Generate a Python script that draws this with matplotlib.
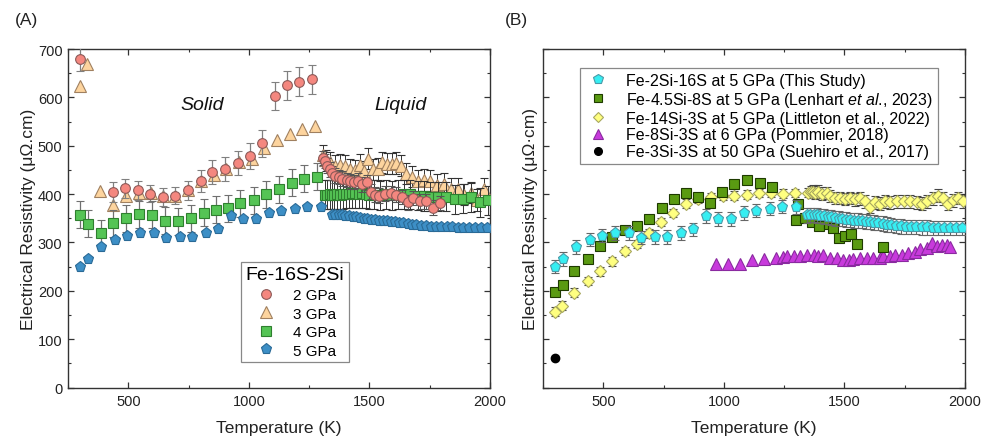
import matplotlib
matplotlib.use("Agg")
import matplotlib.pyplot as plt
from matplotlib.ticker import MultipleLocator
from matplotlib.lines import Line2D

plt.rcParams['font.family'] = ['Liberation Sans', 'DejaVu Sans']
plt.rcParams['mathtext.fontset'] = 'custom'
plt.rcParams['mathtext.rm'] = 'Liberation Sans'
plt.rcParams['mathtext.it'] = 'Liberation Sans:italic'

# ---------------- Panel A data: Fe-16S-2Si ----------------
red_T = [298, 435, 486, 540, 588, 643, 695, 748, 800, 849, 902, 956, 1005, 1053, 1107, 1160, 1209, 1262]
red_R = [680, 404, 412, 408, 401, 394, 397, 408, 427, 445, 452, 465, 479, 505, 603, 625, 632, 637]
red_E = [26, 20, 20, 20, 18, 18, 18, 20, 22, 25, 25, 25, 27, 28, 29, 30, 30, 30]
red_liq_T = [1307, 1316, 1326, 1336, 1346, 1358, 1372, 1388, 1405, 1420, 1436, 1453, 1470, 1490, 1508, 1522,
             1540, 1563, 1588, 1611, 1633, 1658, 1681, 1709, 1734, 1762, 1792]
red_liq_R = [475, 468, 459, 451, 444, 438, 435, 432, 429, 426, 425, 428, 420, 424, 405, 399,
             397, 401, 402, 399, 394, 383, 392, 385, 385, 372, 382]

orange_T = [298, 327, 381, 435, 490, 543, 594, 645, 695, 748, 800, 857, 905, 958, 1014, 1062, 1116, 1169, 1220, 1273]
orange_R = [623, 670, 407, 377, 395, 402, 403, 395, 397, 408, 428, 439, 452, 466, 473, 495, 511, 525, 534, 540]
orange_liq_T = [1307, 1320, 1335, 1356, 1377, 1398, 1421, 1441, 1460, 1478, 1494, 1515, 1536, 1553, 1574, 1595,
                1611, 1632, 1653, 1677, 1702, 1727, 1753, 1782, 1810, 1840, 1868, 1892, 1920, 1947, 1975]
orange_liq_R = [480, 470, 466, 459, 460, 459, 451, 449, 461, 447, 473, 451, 452, 466, 463, 463,
                464, 459, 442, 436, 428, 429, 428, 419, 421, 411, 411, 399, 403, 388, 411]

green_T = [299, 331, 386, 438, 490, 546, 598, 654, 705, 758, 813, 864, 915, 965, 1021, 1072, 1125, 1178, 1228, 1282]
green_R = [357, 339, 319, 340, 350, 358, 357, 345, 344, 350, 361, 368, 371, 381, 387, 400, 410, 423, 432, 436]
green_liq_T = [1315, 1325, 1335, 1345, 1355, 1365, 1378, 1390, 1402, 1415, 1428, 1440, 1455, 1470, 1485, 1500,
               1520, 1545, 1570, 1595, 1620, 1645, 1670, 1700, 1725, 1750, 1785, 1818, 1854, 1888, 1923, 1958, 1993]
green_liq_R = [399, 399, 400, 399, 399, 400, 399, 400, 401, 401, 402, 402, 401, 402, 401, 399,
               399, 398, 400, 398, 399, 400, 400, 397, 396, 394, 394, 394, 389, 390, 393, 383, 387]

# "This Study" 5 GPa (blue in A, cyan in B)
study_T = [299, 332, 387, 444, 496, 548, 606, 658, 713, 764, 821, 871, 925, 976, 1031, 1085, 1135, 1192, 1243, 1298]
study_R = [250, 266, 290, 306, 314, 320, 320, 310, 311, 311, 319, 327, 355, 348, 348, 361, 366, 370, 374, 373]
study_liq_T = [1345, 1358, 1372, 1386, 1400, 1415, 1430, 1445, 1460, 1476, 1492, 1508, 1524, 1540, 1556, 1572,
               1588, 1605, 1622, 1640, 1658, 1676, 1695, 1715, 1735, 1755, 1775, 1797, 1820, 1843, 1866, 1890,
               1914, 1938, 1962, 1986]
study_liq_R = [356, 357, 357, 356, 355, 354, 353, 352, 350, 349, 348, 347, 346, 345, 345, 344,
               343, 342, 341, 340, 339, 337, 336, 334, 333, 332, 332, 332, 331, 331, 330, 330,
               330, 330, 330, 330]

# ---------------- Panel B data: comparison ----------------
lenhart_T = [300, 333, 380, 435, 485, 536, 591, 640, 691, 743, 795, 844, 892, 943, 994, 1043, 1096, 1150, 1199,
             1300, 1309, 1337, 1365, 1396, 1434, 1454, 1478, 1503, 1528, 1551, 1662]
lenhart_R = [198, 212, 240, 266, 292, 311, 325, 334, 349, 371, 390, 403, 394, 381, 405, 421, 430, 423, 414,
             347, 380, 350, 342, 334, 339, 330, 310, 313, 318, 296, 290]

littleton_T = [300, 329, 380, 435, 485, 536, 588, 640, 691, 740, 791, 843, 892, 946, 996, 1043, 1096, 1147, 1196,
               1245, 1296, 1347, 1360, 1370, 1380, 1392, 1406, 1427, 1441, 1461, 1482, 1503, 1524, 1544, 1565,
               1586, 1607, 1627, 1648, 1669, 1689, 1717, 1745, 1772, 1800, 1821, 1841, 1869, 1890, 1910, 1931,
               1952, 1972, 1993]
littleton_R = [157, 169, 196, 220, 240, 261, 282, 297, 319, 342, 361, 380, 390, 394, 396, 397, 399, 402, 402,
               401, 402, 403, 404, 405, 403, 405, 401, 402, 396, 392, 392, 390, 392, 389, 391,
               385, 374, 383, 380, 385, 383, 385, 385, 385, 383, 380, 385, 391, 397, 391, 380,
               387, 392, 385]

pommier_T = [967, 1017, 1065, 1116, 1167, 1217, 1245, 1261, 1289, 1316, 1344, 1372, 1392, 1413, 1441, 1468,
             1496, 1517, 1537, 1565, 1593, 1620, 1648, 1662, 1689, 1710, 1738, 1765, 1793, 1814, 1841, 1862,
             1883, 1903, 1924, 1938]
pommier_R = [256, 256, 256, 264, 266, 267, 270, 271, 272, 272, 273, 274, 272, 273, 268, 268,
             264, 263, 266, 268, 268, 268, 268, 272, 272, 273, 275, 278, 280, 287, 289, 299,
             292, 294, 295, 290]

suehiro_T = [300]
suehiro_R = [62]

# ---------------- Figure ----------------
fig = plt.figure(figsize=(9.88, 4.39), dpi=100)
W, H = 988.0, 439.0
axA = fig.add_axes([68 / W, (H - 388.5) / H, 422 / W, 338.5 / H])
axB = fig.add_axes([543 / W, (H - 388.5) / H, 422 / W, 338.5 / H])


def style_axis(ax, ticklabels_y=True):
    ax.set_xlim(250, 2000)
    ax.set_ylim(0, 700)
    ax.xaxis.set_major_locator(MultipleLocator(500))
    ax.xaxis.set_minor_locator(MultipleLocator(250))
    ax.yaxis.set_major_locator(MultipleLocator(100))
    ax.yaxis.set_minor_locator(MultipleLocator(50))
    ax.tick_params(which='both', direction='in', top=True, right=True, colors='#333333',
                   labelcolor='#222222', labelsize=10.5)
    ax.tick_params(which='major', length=4.5, width=0.9)
    ax.tick_params(which='minor', length=2.5, width=0.8)
    ax.tick_params(axis='x', pad=5)
    ax.tick_params(axis='y', pad=4)
    for s in ax.spines.values():
        s.set_color('#333333')
        s.set_linewidth(1.0)
    if not ticklabels_y:
        ax.tick_params(axis='y', labelleft=False)
    ax.set_xlabel('Temperature (K)', fontsize=12.5, color='#222222')
    ax.xaxis.set_label_coords(0.5, -0.095)
    ax.xaxis.label.set_va('top')


def series(ax, T, R, E, marker, fc, ec, ms, ecolor='#777777', z=3, capsize=3, elw=0.9):
    ax.errorbar(T, R, yerr=E, fmt=marker, ms=ms, mfc=fc, mec=ec, mew=0.8,
                ecolor=ecolor, elinewidth=elw, capsize=capsize, capthick=elw, zorder=z)


# ---- Panel A ----
style_axis(axA, True)
c_red, e_red = '#f4877f', '#8c5a58'
c_or, e_or = '#fdd49e', '#a08060'
c_gr, e_gr = '#55c455', '#2f7f2f'
c_bl, e_bl = '#3d8fc6', '#2a6a96'

series(axA, orange_T, orange_R, None, '^', c_or, e_or, 8, z=3)
series(axA, orange_liq_T, orange_liq_R, [22] * len(orange_liq_T), '^', c_or, e_or, 8,
       ecolor='#333333', z=3, elw=0.7)
series(axA, red_T, red_R, red_E, 'o', c_red, e_red, 7, ecolor='#808080', z=4)
series(axA, green_T, green_R, [28] * len(green_T), 's', c_gr, e_gr, 6.5, ecolor='#707070', z=5)
series(axA, green_liq_T, green_liq_R, [30] * len(green_liq_T), 's', c_gr, e_gr, 6.5,
       ecolor='#333333', z=5, elw=0.7)
series(axA, red_liq_T, red_liq_R, [15] * len(red_liq_T), 'o', c_red, e_red, 7,
       ecolor='#555555', z=5.5, elw=0.7)
series(axA, study_T, study_R, None, 'p', c_bl, e_bl, 8, z=6)
series(axA, study_liq_T, study_liq_R, None, 'p', c_bl, e_bl, 8, z=6)

axA.set_ylabel('Electrical Resistivity (\u03bc\u03a9.cm)', fontsize=12.5, color='#222222')
axA.yaxis.set_label_coords(-0.077, 0.5)

axA.text(0.3175, 0.8375, 'Solid', transform=axA.transAxes, fontsize=14, style='italic',
         ha='center', va='center', color='#111111')
axA.text(0.789, 0.835, 'Liquid', transform=axA.transAxes, fontsize=14, style='italic',
         ha='center', va='center', color='#111111')

hA = [Line2D([], [], ls='none', marker='o', ms=7, mfc=c_red, mec=e_red, mew=0.8),
      Line2D([], [], ls='none', marker='^', ms=8, mfc=c_or, mec=e_or, mew=0.8),
      Line2D([], [], ls='none', marker='s', ms=6.5, mfc=c_gr, mec=e_gr, mew=0.8),
      Line2D([], [], ls='none', marker='p', ms=8, mfc=c_bl, mec=e_bl, mew=0.8)]
labA = ['2 GPa', '3 GPa', '4 GPa', '5 GPa']
legA = axA.legend(hA, labA, title='Fe-16S-2Si', loc='upper left', bbox_to_anchor=(0.41, 0.371),
                  borderaxespad=0, fontsize=11, title_fontsize=14, frameon=True, fancybox=False,
                  edgecolor='#888888', framealpha=1, labelspacing=0.3, handletextpad=1.0,
                  borderpad=0.3, handlelength=1.6)
legA.get_frame().set_linewidth(0.9)

# ---- Panel B ----
style_axis(axB, False)
c_cy, e_cy = '#36eef2', '#4a9aa8'
c_ol, e_ol = '#5a9a12', '#1e3a00'
c_ye, e_ye = '#ffff80', '#a8a860'
c_pu, e_pu = '#c83adc', '#8a2aa0'

series(axB, pommier_T, pommier_R, None, '^', c_pu, e_pu, 8, z=3)
series(axB, littleton_T, littleton_R, [9] * 22 + [13] * (len(littleton_T) - 22), 'D', c_ye, e_ye, 6.5,
       ecolor='#444444', z=4, elw=0.8)
series(axB, lenhart_T, lenhart_R, [5] * len(lenhart_T), 's', c_ol, e_ol, 6.5, ecolor='#333333', z=5)
series(axB, study_T, study_R, [14] * len(study_T), 'p', c_cy, e_cy, 8, ecolor='#666666', z=6)
series(axB, study_liq_T, study_liq_R, [15] * len(study_liq_T), 'p', c_cy, e_cy, 8,
       ecolor='#666666', z=6, elw=0.8)
axB.plot(suehiro_T, suehiro_R, 'o', ms=6, color='black', zorder=7, clip_on=False)

axB.set_ylabel('Electrical Resistivity (\u03bc\u03a9\u00b7cm)', fontsize=12.5, color='#222222')
axB.yaxis.set_label_coords(-0.012, 0.5)

hB = [Line2D([], [], ls='none', marker='p', ms=7, mfc=c_cy, mec=e_cy, mew=0.8),
      Line2D([], [], ls='none', marker='s', ms=5.5, mfc=c_ol, mec=e_ol, mew=0.8),
      Line2D([], [], ls='none', marker='D', ms=5.5, mfc=c_ye, mec=e_ye, mew=0.8),
      Line2D([], [], ls='none', marker='^', ms=6.5, mfc=c_pu, mec=e_pu, mew=0.8),
      Line2D([], [], ls='none', marker='o', ms=5.5, color='black')]
labB = ['Fe-2Si-16S at 5 GPa (This Study)',
        'Fe-4.5Si-8S at 5 GPa (Lenhart $\\it{et\\ al}$., 2023)',
        'Fe-14Si-3S at 5 GPa (Littleton et al., 2022)',
        'Fe-8Si-3S at 6 GPa (Pommier, 2018)',
        'Fe-3Si-3S at 50 GPa (Suehiro et al., 2017)']
legB = axB.legend(hB, labB, loc='upper left', bbox_to_anchor=(0.0877, 0.944), borderaxespad=0,
                  fontsize=11.5, frameon=True, fancybox=False, edgecolor='#888888', framealpha=1,
                  labelspacing=0.12, handletextpad=1.0, borderpad=0.3, handlelength=1.6)
legB.get_frame().set_linewidth(0.9)

fig.text(26 / W, 1 - 21 / H, '(A)', fontsize=12.5, ha='center', va='center', color='#222222')
fig.text(516 / W, 1 - 20 / H, '(B)', fontsize=12.5, ha='center', va='center', color='#222222')

fig.savefig('out.png', dpi=100)
